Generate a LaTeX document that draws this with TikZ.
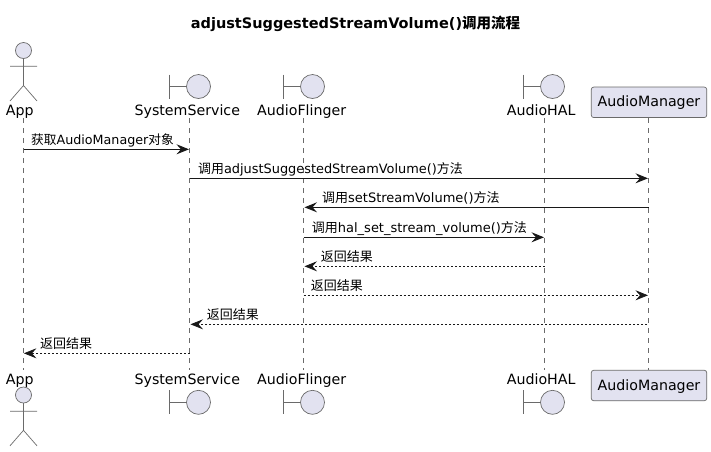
\documentclass[tikz,border=0pt]{standalone}
\usepackage{fontspec}
\setmainfont{DejaVu Sans}
\newfontfamily\cjk{Noto Sans CJK SC}
\usetikzlibrary{arrows.meta}
\definecolor{pfill}{HTML}{E2E2F0}
\definecolor{pline}{HTML}{181818}
\definecolor{thinline}{HTML}{6A6A6A}
\tikzset{
  x=1pt,y=-1pt,
  shapeline/.style={draw=thinline,line width=.7pt},
  shapefill/.style={shapeline,fill=pfill},
  lifeline/.style={draw=thinline,line width=.7pt,dash pattern=on 5pt off 5pt},
  msg/.style={draw=pline,line width=.9pt,-{Stealth[length=12.5pt,width=10pt,inset=4.5pt]}},
  ret/.style={msg,dash pattern=on 2pt off 2pt,line width=.7pt},
  pname/.style={anchor=base,font=\fontsize{14.2}{16}\selectfont,text=black,inner sep=0pt},
  mlabel/.style={anchor=base west,font=\fontsize{13}{15}\selectfont,text=black,inner sep=0pt},
  pbox/.style={shapefill,rounded corners=2.5pt,minimum width=115.5pt,minimum height=30.5pt,inner sep=0pt},
}
\newcommand{\actorfig}[4]{% x, head y, shoulder y, hip y (feet = hip + 15.5)
  \draw[shapefill] (#1,#2) circle[radius=8];
  \draw[shapeline] (#1,#2+8) -- (#1,#4) (#1-13.5,#3) -- (#1+13.5,#3)
     (#1-13.5,#4+15.5) -- (#1,#4) -- (#1+13.5,#4+15.5);
}
\newcommand{\boundaryfig}[2]{% bar x, centre y
  \draw[shapeline] (#1,#2-12) -- (#1,#2+12) (#1,#2) -- (#1+17,#2);
  \draw[shapefill] (#1+29,#2) circle[radius=12];
}
\begin{document}
\begin{tikzpicture}
\useasboundingbox (0,0) rectangle (711,451);
\node[anchor=base,inner sep=0pt,font=\fontsize{14.5}{16}\selectfont\bfseries] (title) at (355.5,28)
  {adjustSuggestedStreamVolume(){\cjk\fontsize{14.5}{16}\selectfont 调用流程}};

% lifeline ends
\coordinate (appT) at (23.5,118); \coordinate (appB) at (23.5,370);
\coordinate (sysT) at (189.5,118); \coordinate (sysB) at (189.5,370);
\coordinate (flgT) at (303.5,118); \coordinate (flgB) at (303.5,370);
\coordinate (halT) at (544.5,118); \coordinate (halB) at (544.5,370);
\coordinate (mgrT) at (648.5,118); \coordinate (mgrB) at (648.5,370);
\draw[lifeline] (appT) -- (appB);
\draw[lifeline] (sysT) -- (sysB);
\draw[lifeline] (flgT) -- (flgB);
\draw[lifeline] (halT) -- (halB);
\draw[lifeline] (mgrT) -- (mgrB);

% participants, top
\actorfig{23.5}{50.5}{66.3}{85.5}
\boundaryfig{169.5}{86.5}
\boundaryfig{283.5}{86.5}
\boundaryfig{523.5}{86.5}
\node[pname] (appN) at (19.7,115) {App};
\node[pname] (sysN) at (187.3,115) {SystemService};
\node[pname] (flgN) at (301.7,115) {AudioFlinger};
\node[pname] (halN) at (541.2,115) {AudioHAL};
\node[pbox] (mgr) at (649,102.3) {};
\node[pname] (mgrN) at (649,106.8) {AudioManager};

% participants, bottom
\actorfig{23.5}{395}{411.3}{430.3}
\boundaryfig{169.5}{402.3}
\boundaryfig{283.5}{402.3}
\boundaryfig{523.5}{402.3}
\node[pname] (appF) at (19.7,384.3) {App};
\node[pname] (sysF) at (187.3,384.3) {SystemService};
\node[pname] (flgF) at (301.7,384.3) {AudioFlinger};
\node[pname] (halF) at (541.2,384.3) {AudioHAL};
\node[pbox] (mgrb) at (649,385.5) {};
\node[pname] (mgrG) at (649,390.8) {AudioManager};

% messages
\draw[msg] (23.5,149.3) -- (189,149.3);
\node[mlabel,font=\fontsize{12.7}{15}\selectfont] at (31,144.8) {{\cjk 获取}AudioManager{\cjk 对象}};
\draw[msg] (189.5,178.3) -- (648,178.3);
\node[mlabel,font=\fontsize{12.9}{15}\selectfont] at (198,173.8) {{\cjk 调用}adjustSuggestedStreamVolume(){\cjk 方法}};
\draw[msg] (648.5,207.3) -- (304.5,207.3);
\node[mlabel] at (322,202.8) {{\cjk 调用}setStreamVolume(){\cjk 方法}};
\draw[msg] (303.5,237.3) -- (544,237.3);
\node[mlabel] at (311.7,232.8) {{\cjk 调用}hal\_set\_stream\_volume(){\cjk 方法}};
\draw[ret] (544.5,266.3) -- (304.5,266.3);
\node[mlabel] at (320.7,261.8) {{\cjk 返回结果}};
\draw[ret] (303.5,295.3) -- (648,295.3);
\node[mlabel] at (310.7,290.8) {{\cjk 返回结果}};
\draw[ret] (647,324.3) -- (190.5,324.3);
\node[mlabel] at (206.7,319.8) {{\cjk 返回结果}};
\draw[ret] (189.5,353.3) -- (23.9,353.3);
\node[mlabel] at (40,348.8) {{\cjk 返回结果}};
\end{tikzpicture}
\end{document}
